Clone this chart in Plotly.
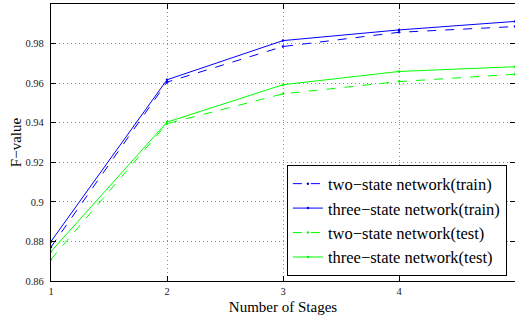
import plotly.graph_objects as go

stages = [1, 2, 3, 4, 5]
two_train = [0.8772, 0.9605, 0.9785, 0.9857, 0.9886]
three_train = [0.8800, 0.9617, 0.9815, 0.9869, 0.9912]
two_test = [0.8710, 0.9395, 0.9546, 0.9608, 0.9645]
three_test = [0.8749, 0.9403, 0.9592, 0.9659, 0.9683]

names = ["two\u2212state network(train)", "three\u2212state network(train)",
         "two\u2212state network(test)", "three\u2212state network(test)"]
series = [two_train, three_train, two_test, three_test]
colors = ["#0000FF", "#0000FF", "#00FF00", "#00FF00"]
dashes = ["dash", "solid", "dash", "solid"]

x_ticks = [1, 2, 3, 4, 5]
y_ticks = [0.86, 0.88, 0.9, 0.92, 0.94, 0.96, 0.98, 1]
y_ticklabels = ["0.86", "0.88", "0.9", "0.92", "0.94", "0.96", "0.98", "1"]

fig = go.Figure()
for n, s, c, d in zip(names, series, colors, dashes):
    fig.add_trace(go.Scatter(x=stages, y=s, name=n, mode="lines+markers",
                             line=dict(color=c, width=1, dash=d),
                             marker=dict(size=2.5, color=c)))

serif = "Liberation Serif, Times New Roman, serif"
axis_common = dict(
    showline=True, linecolor="black", linewidth=1.2, mirror="ticks",
    ticks="inside", ticklen=5, tickcolor="black", automargin=False,
    showgrid=True, gridcolor="#8a8a8a", griddash="1px,3px", gridwidth=1,
    zeroline=False, tickfont=dict(family=serif, size=10.5, color="#222"),
)
fig.update_xaxes(range=[1, 5], tickvals=x_ticks, ticktext=[str(v) for v in x_ticks],
                 title=dict(text="Number of Stages", font=dict(family=serif, size=15, color="black"), standoff=5),
                 **axis_common)
fig.update_yaxes(range=[0.86, 1], tickvals=y_ticks, ticktext=y_ticklabels,
                 title=dict(text="F\u2212value", font=dict(family=serif, size=15, color="black"), standoff=0),
                 ticklabelstandoff=4, **axis_common)

fig.update_layout(
    width=515, height=320, autosize=False,
    margin=dict(l=51, r=0, t=4, b=39),
    plot_bgcolor="white", paper_bgcolor="white",
    font=dict(family=serif, color="black"),
    showlegend=True,
    legend=dict(x=0.508, y=0.418, xanchor="left", yanchor="top",
                bgcolor="white", bordercolor="black", borderwidth=1.2,
                font=dict(family=serif, size=16.5, color="black"),
                itemwidth=30, tracegroupgap=0),
)
fig.write_html("out.html", config={"displayModeBar": False},
               post_script="document.body.style.margin='0';document.body.style.overflow='hidden';")
